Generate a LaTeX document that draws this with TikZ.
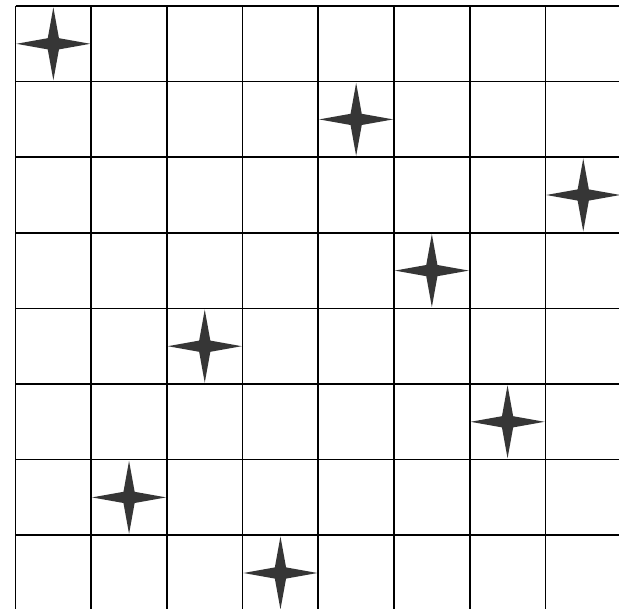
\documentclass[tikz,border=0pt]{standalone}
\usepackage{tikz}
\definecolor{stargray}{HTML}{363636}
\tikzset{
  gridline/.style={draw=black, line width=1.7pt},
  queenstar/.style={fill=stargray, draw=none}
}
\begin{document}
\begin{tikzpicture}[x=1pt,y=-1pt]
\useasboundingbox (0,0) rectangle (619,609);
\clip (0,0) rectangle (619,609);
\fill[white] (0,0) rectangle (619,609);
% grid
\foreach \i in {0,...,8} {
  \draw[gridline] ({15.5+75.7*\i},6) -- ({15.5+75.7*\i},620);
  \draw[gridline] (15.5,{6+75.6*\i}) -- (630,{6+75.6*\i});
}
% stars (row, column)
\foreach \r/\c in {0/0,1/4,2/7,3/5,4/2,5/6,6/1,7/3} {
  \begin{scope}[shift={({15.5+75.7*(\c+0.5)},{6+75.6*(\r+0.5)})}]
    \fill[queenstar] (0,-36.5) -- (5.6,-5.6) -- (37,0) -- (5.6,5.6) -- (0,36.5)
      -- (-5.6,5.6) -- (-37,0) -- (-5.6,-5.6) -- cycle;
  \end{scope}
}
\end{tikzpicture}
\end{document}
